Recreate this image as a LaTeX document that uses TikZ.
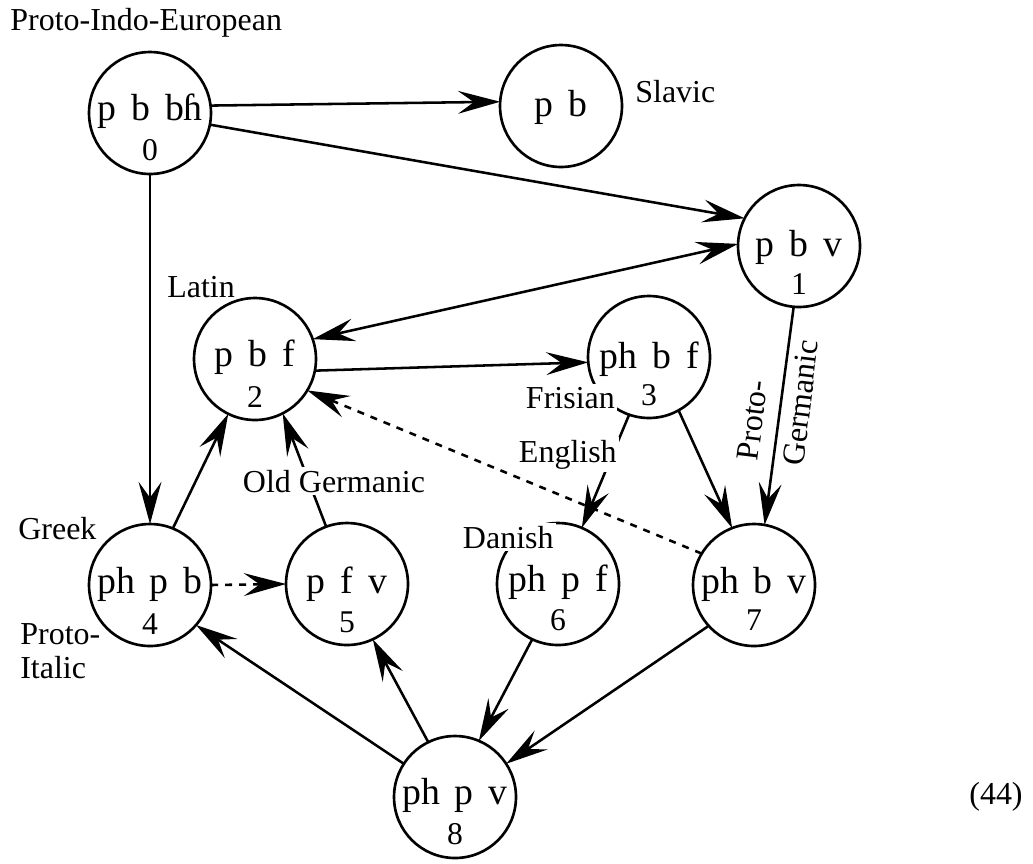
\documentclass[tikz,border=0pt]{standalone}
\usepackage{fontspec}
\setmainfont{Liberation Serif}
\usetikzlibrary{arrows.meta}
\newcommand{\nodegap}{\hspace{0.4em}}
\begin{document}
\begin{tikzpicture}[x=0.02cm,y=-0.02cm,
  state/.style={circle,draw,line width=1.5pt,minimum size=2.44cm,inner sep=0pt,outer sep=0pt},
  txt/.style={font=\fontsize{21.5}{25}\selectfont,anchor=base,inner sep=0pt},
  num/.style={font=\fontsize{18}{21}\selectfont,anchor=base,inner sep=0pt},
  lab/.style={font=\fontsize{18.2}{21}\selectfont,anchor=base west,inner sep=0pt},
  wlab/.style={lab,fill=white,inner sep=1.5pt},
  arr/.style={line width=1.45pt,>={Stealth[length=24pt,width=13pt,inset=9pt]},->},
  darr/.style={arr,dash pattern=on 4pt off 4pt},
]
\useasboundingbox (0,0) rectangle (1033,863);

% states
\node[state] (n0) at (150,113) {};
\node[state] (nS) at (561,106) {};
\node[state] (n1) at (799,246) {};
\node[state] (n2) at (255,359) {};
\node[state] (n3) at (649,357) {};
\node[state] (n4) at (150,585) {};
\node[state] (n5) at (347,584) {};
\node[state] (n6) at (558,584) {};
\node[state] (n7) at (754,585) {};
\node[state] (n8) at (455,797) {};

% state contents
\node[txt] (t0) at (150,120) {p\nodegap b\nodegap bɦ};
\node[num] (k0) at (150,160) {0};
\node[txt] (tS) at (561,116) {p\nodegap b};
\node[txt] (t1) at (799,256) {p\nodegap b\nodegap v};
\node[num] (k1) at (799,294) {1};
\node[txt] (t2) at (255,366) {p\nodegap b\nodegap f};
\node[num] (k2) at (255,407) {2};
\node[txt] (t3) at (649,368) {ph\nodegap b\nodegap f};
\node[num] (k3) at (649,405) {3};
\node[txt] (t4) at (150,593) {ph\nodegap p\nodegap b};
\node[num] (k4) at (150,634) {4};
\node[txt] (t5) at (347,593) {p\nodegap f\nodegap v};
\node[num] (k5) at (347,632) {5};
\node[txt] (t6) at (558,591) {ph\nodegap p\nodegap f};
\node[num] (k6) at (558,630) {6};
\node[txt] (t7) at (754,593) {ph\nodegap b\nodegap v};
\node[num] (k7) at (754,630) {7};
\node[txt] (t8) at (455,804) {ph\nodegap p\nodegap v};
\node[num] (k8) at (455,844) {8};

% connectors
\draw[arr] (n0.7) -- (nS.176);
\draw[arr] (n0.-11) -- (n1.153);
\draw[arr] (n0.south) -- (n4.north);
\draw[arr,<->] (n1.178) -- (n2.19);
\draw[arr] (n2.-11) -- (n3.185);
\draw[arr] (n3.-109) -- (n6.67);
\draw[arr] (n3.-61) -- (n7.111);
\draw[arr] (n1.-95) -- (n7.80);
\draw[darr] (n7.149) -- (n2.-31);
\draw[arr] (n4.68) -- (n2.-116);
\draw[arr] (n5.110) -- (n2.-63);
\draw[darr] (n4.east) -- (n5.west);
\draw[arr] (n6.-115) -- (n8.67);
\draw[arr] (n7.-138) -- (n8.33);
\draw[arr] (n8.116) -- (n5.-65);
\draw[arr] (n8.147) -- (n4.-41);

% labels
\node[lab] (lPIE) at (10,30) {Proto-Indo-European};
\node[lab] (lSl) at (635,102) {Slavic};
\node[lab] (lLat) at (167,297) {Latin};
\node[wlab] (lFri) at (523,408) {Frisian};
\node[wlab] (lEng) at (516,462) {English};
\node[wlab] (lDan) at (460,548) {Danish};
\node[lab] (lGre) at (18,539) {Greek};
\node[lab,align=left,font=\fontsize{18.2}{18.8}\selectfont] (lIta) at (20,678) {Proto-\\Italic};
\node[wlab] (lOG) at (240,492) {Old Germanic};
\node[lab] (l44) at (969,804) {(44)};
\node[font=\fontsize{18.2}{26}\selectfont,rotate=83,align=left,inner sep=0pt] (lPG) at (778,400) {Proto-\\Germanic};
\end{tikzpicture}
\end{document}
